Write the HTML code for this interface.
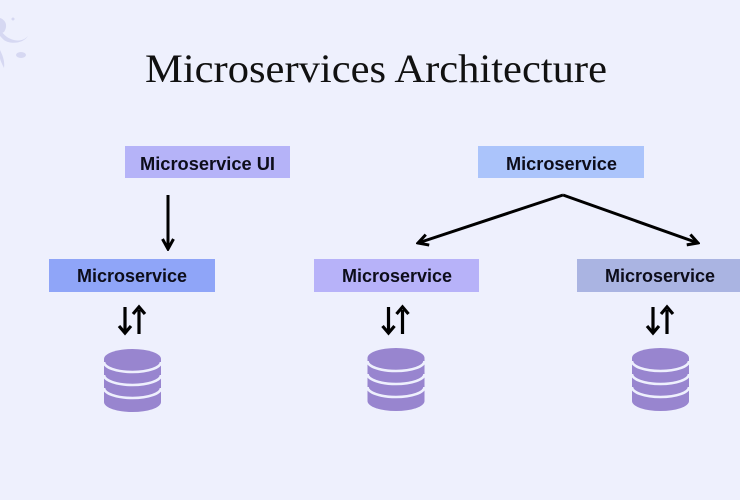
<!DOCTYPE html>
<html>
<head>
<meta charset="utf-8">
<style>
  html,body{margin:0;padding:0;background:#eef0fd;}
  body{width:740px;height:500px;overflow:hidden;}
  svg{display:block;}
</style>
</head>
<body>
<svg width="740" height="500" viewBox="0 0 740 500" xmlns="http://www.w3.org/2000/svg">
  <defs>
    <marker id="ah" viewBox="0 0 14 14" refX="12" refY="7" markerWidth="14" markerHeight="14" markerUnits="userSpaceOnUse" orient="auto">
      <path d="M2,1.5 L12,7 L2,12.5" fill="none" stroke="#000" stroke-width="3" stroke-linejoin="miter"/>
    </marker>
  </defs>
  <rect x="0" y="0" width="740" height="500" fill="#eef0fd"/>

  <!-- faint decoration top-left -->
  <g fill="#d4d6f1" opacity="0.9">
    <path d="M0,18 C6,20 8,26 4,32 L0,34 Z"/>
    <path d="M0,30 C4,34 6,38 14,40 C22,42 26,38 28,36 C24,42 16,44 8,42 C4,41 2,38 0,36 Z"/>
    <ellipse cx="21" cy="55" rx="5" ry="3"/>
    <path d="M0,50 C3,56 5,62 4,68 C2,64 0,60 0,58 Z"/>
    <circle cx="13" cy="19" r="1.5"/>
  </g>

  <!-- title -->
  <text x="145" y="82" font-family="'Liberation Serif', serif" font-size="40" fill="#111" textLength="462" lengthAdjust="spacingAndGlyphs">Microservices Architecture</text>

  <!-- boxes -->
  <rect x="125" y="146" width="165" height="32" fill="#b5b3f8"/>
  <rect x="478" y="146" width="166" height="32" fill="#abc4fb"/>
  <rect x="49" y="259" width="166" height="33" fill="#8fa5f8"/>
  <rect x="314" y="259" width="165" height="33" fill="#b7b2f9"/>
  <rect x="577" y="259" width="166" height="33" fill="#aab4e2"/>

  <g font-family="'Liberation Sans', sans-serif" font-weight="bold" font-size="18" fill="#0d0d1a">
    <text x="140" y="170" textLength="135" lengthAdjust="spacingAndGlyphs">Microservice UI</text>
    <text x="506" y="170" textLength="111" lengthAdjust="spacingAndGlyphs">Microservice</text>
    <text x="77" y="282" textLength="110" lengthAdjust="spacingAndGlyphs">Microservice</text>
    <text x="342" y="282" textLength="110" lengthAdjust="spacingAndGlyphs">Microservice</text>
    <text x="605" y="282" textLength="110" lengthAdjust="spacingAndGlyphs">Microservice</text>
  </g>

  <!-- connectors -->
  <line x1="168" y1="195" x2="168" y2="249" stroke="#000" stroke-width="3" marker-end="url(#ah)"/>
  <line x1="563" y1="195" x2="418" y2="243" stroke="#000" stroke-width="3" marker-end="url(#ah)"/>
  <line x1="563" y1="195" x2="698" y2="243" stroke="#000" stroke-width="3" marker-end="url(#ah)"/>

  <!-- DB arrows + cylinders -->
  <g>
    <g stroke="#000" stroke-width="3.2" fill="none">
      <line x1="125" y1="307" x2="125" y2="331"/>
      <path d="M119,326 L125,333 L131,326"/>
      <line x1="139" y1="310" x2="139" y2="334"/>
      <path d="M133,314 L139,307 L145,314"/>
    </g>
    <path d="M104,359 A28.5,10 0 0 1 161,359 L161,402 A28.5,10 0 0 1 104,402 Z" fill="#9885cf"/>
    <g stroke="#eef0fd" stroke-width="2.6" fill="none">
      <path d="M104,362 A28.5,10 0 0 0 161,362"/>
      <path d="M104,375 A28.5,10 0 0 0 161,375"/>
      <path d="M104,388 A28.5,10 0 0 0 161,388"/>
    </g>
  </g>

  <g transform="translate(263.5,-1)">
    <g stroke="#000" stroke-width="3.2" fill="none">
      <line x1="125" y1="308" x2="125" y2="332"/>
      <path d="M119,327 L125,334 L131,327"/>
      <line x1="139" y1="311" x2="139" y2="335"/>
      <path d="M133,315 L139,308 L145,315"/>
    </g>
    <path d="M104,359 A28.5,10 0 0 1 161,359 L161,402 A28.5,10 0 0 1 104,402 Z" fill="#9885cf"/>
    <g stroke="#eef0fd" stroke-width="2.6" fill="none">
      <path d="M104,362 A28.5,10 0 0 0 161,362"/>
      <path d="M104,375 A28.5,10 0 0 0 161,375"/>
      <path d="M104,388 A28.5,10 0 0 0 161,388"/>
    </g>
  </g>

  <g transform="translate(528,-1)">
    <g stroke="#000" stroke-width="3.2" fill="none">
      <line x1="125" y1="308" x2="125" y2="332"/>
      <path d="M119,327 L125,334 L131,327"/>
      <line x1="139" y1="311" x2="139" y2="335"/>
      <path d="M133,315 L139,308 L145,315"/>
    </g>
    <path d="M104,359 A28.5,10 0 0 1 161,359 L161,402 A28.5,10 0 0 1 104,402 Z" fill="#9885cf"/>
    <g stroke="#eef0fd" stroke-width="2.6" fill="none">
      <path d="M104,362 A28.5,10 0 0 0 161,362"/>
      <path d="M104,375 A28.5,10 0 0 0 161,375"/>
      <path d="M104,388 A28.5,10 0 0 0 161,388"/>
    </g>
  </g>
</svg>
</body>
</html>
